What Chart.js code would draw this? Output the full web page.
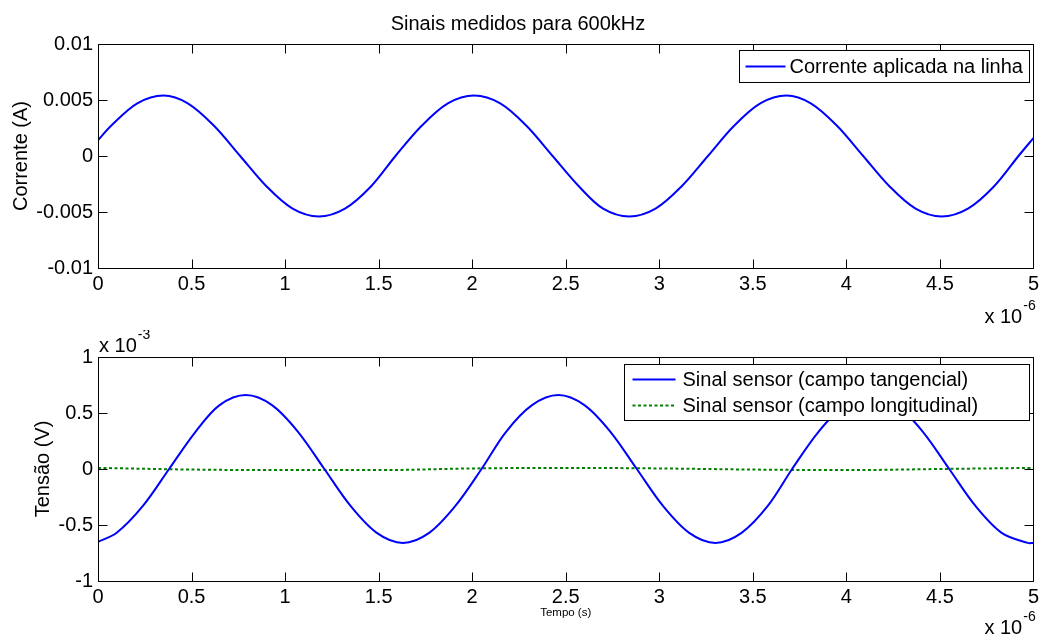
<!DOCTYPE html>
<html>
<head>
<meta charset="utf-8">
<title>Sinais medidos para 600kHz</title>
<script src="https://cdn.jsdelivr.net/npm/chart.js@4.4.0/dist/chart.umd.min.js"></script>
<style>
  html, body { margin: 0; padding: 0; background: #fff; }
  #wrap { position: relative; width: 1043px; height: 636px; }
  .painel { position: absolute; left: 0; width: 1043px; }
  #painelCorrente { top: 0; height: 330px; }
  #painelTensao { top: 330px; height: 306px; }
</style>
</head>
<body>
<div id="wrap">
  <div class="painel" id="painelCorrente"><canvas id="chartCorrente" width="1043" height="330"></canvas></div>
  <div class="painel" id="painelTensao"><canvas id="chartTensao" width="1043" height="306"></canvas></div>
</div>
<script>
// Tempo em unidades de 1e-6 s (eixo "x 10^-6")
const xTickValues = [0, 0.5, 1, 1.5, 2, 2.5, 3, 3.5, 4, 4.5, 5];
const xTickLabels = ['0', '0.5', '1', '1.5', '2', '2.5', '3', '3.5', '4', '4.5', '5'];

// Subplot 1 - corrente (A)
const yCorrenteTicks = [-0.01, -0.005, 0, 0.005, 0.01];
const yCorrenteLabels = ['-0.01', '-0.005', '0', '0.005', '0.01'];
const tempoCorrente = [0, 0.07, 0.21, 0.35, 0.48, 0.62, 0.76, 0.90, 1.04, 1.18, 1.32, 1.46, 1.59,
  1.73, 1.87, 2.01, 2.15, 2.29, 2.43, 2.57, 2.70, 2.84, 2.98, 3.12, 3.26, 3.40, 3.54, 3.68,
  3.81, 3.95, 4.09, 4.23, 4.37, 4.51, 4.65, 4.79, 4.92, 5.00];
const corrente = [0.0014, 0.0027, 0.0047,
  0.0054, 0.0047, 0.0027, 0, -0.0027, -0.0047, -0.0054, -0.0047, -0.0027, 0, 0.0027, 0.0047,
  0.0054, 0.0047, 0.0027, 0, -0.0027, -0.0047, -0.0054, -0.0047, -0.0027, 0, 0.0027, 0.0047,
  0.0054, 0.0047, 0.0027, 0, -0.0027, -0.0047, -0.0054, -0.0047, -0.0027, 0,
  0.0016];

// Subplot 2 - tensao em unidades de 1e-3 V (eixo "x 10^-3")
const yTensaoTicks = [-1, -0.5, 0, 0.5, 1];
const yTensaoLabels = ['-1', '-0.5', '0', '0.5', '1'];
const tempoSensor = [0, 0.10, 0.24, 0.38, 0.52, 0.65, 0.79, 0.93, 1.07, 1.21, 1.35, 1.49, 1.63,
  1.77, 1.91, 2.05, 2.18, 2.32, 2.46, 2.60, 2.74, 2.88, 3.02, 3.16, 3.30,
  3.44, 3.58, 3.71, 3.85, 3.99, 4.13, 4.27, 4.41, 4.55, 4.69, 4.83, 4.97, 5.00];
const sinalTangencial = [-0.65,
  -0.57, -0.33, 0, 0.33, 0.57, 0.66, 0.57, 0.33, 0, -0.33, -0.57, -0.66,
  -0.57, -0.33, 0, 0.33, 0.57, 0.66, 0.57, 0.33, 0, -0.33, -0.57, -0.66,
  -0.57, -0.33, 0, 0.33, 0.57, 0.66, 0.57, 0.33, 0, -0.33, -0.57, -0.66,
  -0.66];
const tempoLongitudinal = [0, 0.5, 1.0, 1.5, 2.0, 2.5, 3.0, 3.5, 4.0, 4.5, 5.0];
const sinalLongitudinal = [0.01, -0.005, -0.01, -0.01, 0.005, 0.01, 0.005, -0.005, -0.01, 0, 0.01];

const FONTE = '"Liberation Sans", Arial, Helvetica, sans-serif';
Chart.defaults.font.family = FONTE;
Chart.defaults.color = '#000';

function toPoints(xs, ys) {
  return xs.map((x, i) => ({ x: x, y: ys[i] }));
}

function labelFor(values, labels) {
  return function(v) {
    const i = values.findIndex(t => Math.abs(t - v) < 1e-9);
    return i >= 0 ? labels[i] : '';
  };
}

// Caixa estilo MATLAB: moldura, marcas para dentro, expoentes e legenda
const matlabFrame = {
  id: 'matlabFrame',
  afterDraw(chart, args, opts) {
    const ctx = chart.ctx;
    const a = chart.chartArea;
    const xs = chart.scales.x, ys = chart.scales.y;
    const L = Math.round(a.left) + 0.5, R = Math.round(a.right) + 0.5;
    const T = Math.round(a.top) + 0.5, B = Math.round(a.bottom) + 0.5;
    const tl = opts.tickLen || 9;
    ctx.save();
    ctx.strokeStyle = '#000';
    ctx.lineWidth = 1;
    ctx.setLineDash([]);
    ctx.beginPath();
    ctx.rect(L, T, R - L, B - T);
    xs.ticks.forEach(t => {
      const px = Math.round(xs.getPixelForValue(t.value)) + 0.5;
      ctx.moveTo(px, B); ctx.lineTo(px, B - tl);
      ctx.moveTo(px, T); ctx.lineTo(px, T + tl);
    });
    ys.ticks.forEach(t => {
      const py = Math.round(ys.getPixelForValue(t.value)) + 0.5;
      ctx.moveTo(L, py); ctx.lineTo(L + tl, py);
      ctx.moveTo(R, py); ctx.lineTo(R - tl, py);
    });
    ctx.stroke();

    // expoentes "x 10^n"
    ctx.fillStyle = '#000';
    ctx.textBaseline = 'middle';
    ctx.textAlign = 'left';
    (opts.exponents || []).forEach(e => {
      const bx = e.corner === 'tl' ? a.left + e.dx : a.right + e.dx;
      const by = e.corner === 'tl' ? a.top + e.dy : a.bottom + e.dy;
      ctx.font = '20px ' + FONTE;
      ctx.fillText('x 10', bx, by);
      const w = ctx.measureText('x 10').width;
      ctx.font = '14px ' + FONTE;
      ctx.fillText(e.sup, bx + w + 1, by - 11);
    });

    // legenda
    const lg = opts.legend;
    if (lg) {
      const bx = Math.round(a.right - lg.right - lg.width) + 0.5;
      const by = Math.round(a.top + lg.top) + 0.5;
      ctx.fillStyle = '#fff';
      ctx.fillRect(bx, by, lg.width, lg.height);
      ctx.strokeStyle = '#000';
      ctx.lineWidth = 1;
      ctx.strokeRect(bx, by, lg.width, lg.height);
      ctx.font = '20px ' + FONTE;
      chart.data.datasets.forEach((ds, i) => {
        const ry = by + lg.rows[i];
        ctx.save();
        ctx.strokeStyle = ds.borderColor;
        ctx.lineWidth = ds.borderWidth;
        ctx.setLineDash(ds.borderDash || []);
        ctx.beginPath();
        ctx.moveTo(bx + lg.linePad, ry);
        ctx.lineTo(bx + lg.linePad + lg.lineLen, ry);
        ctx.stroke();
        ctx.restore();
        ctx.fillStyle = '#000';
        ctx.fillText(ds.label, bx + lg.linePad + lg.lineLen + lg.textGap, ry + 1);
      });
    }
    ctx.restore();
  }
};

function xScale(height, title) {
  return {
    type: 'linear',
    min: 0,
    max: 5,
    ticks: {
      stepSize: 0.5,
      padding: 4,
      autoSkip: false,
      maxRotation: 0,
      font: { size: 20 },
      callback: labelFor(xTickValues, xTickLabels)
    },
    grid: { display: false, drawTicks: false },
    border: { display: false },
    title: title,
    afterFit: function(s) { s.height = height; }
  };
}

function yScale(min, max, step, values, labels, titleText, titlePad) {
  return {
    type: 'linear',
    min: min,
    max: max,
    ticks: {
      stepSize: step,
      padding: 5,
      autoSkip: false,
      font: { size: 20 },
      callback: labelFor(values, labels)
    },
    grid: { display: false, drawTicks: false },
    border: { display: false },
    title: {
      display: true,
      text: titleText,
      font: { size: 20 },
      padding: { top: titlePad, bottom: 0 }
    },
    afterFit: function(s) { s.width = 98; }
  };
}

// Corrente aplicada
new Chart(document.getElementById('chartCorrente').getContext('2d'), {
  type: 'line',
  data: {
    datasets: [{
      label: 'Corrente aplicada na linha',
      data: toPoints(tempoCorrente, corrente),
      borderColor: '#0000ff',
      borderWidth: 2,
      pointRadius: 0,
      tension: 0.33,
      fill: false
    }]
  },
  options: {
    responsive: false,
    animation: false,
    layout: { padding: { left: 0, right: 7, top: 0, bottom: 0 } },
    plugins: {
      legend: { display: false },
      tooltip: { enabled: false },
      title: {
        display: true,
        text: 'Sinais medidos para 600kHz',
        color: '#000',
        font: { size: 20, weight: 'normal' },
        padding: { top: 12, bottom: 8 }
      },
      matlabFrame: {
        tickLen: 9,
        exponents: [{ corner: 'br', dx: -49, dy: 49, sup: '-6' }],
        legend: { right: 4, top: 6, width: 290, height: 32, rows: [16], linePad: 6, lineLen: 40, textGap: 4 }
      }
    },
    scales: {
      x: xScale(62, { display: false }),
      y: yScale(-0.01, 0.01, 0.005, yCorrenteTicks, yCorrenteLabels, 'Corrente (A)', 9)
    }
  },
  plugins: [matlabFrame]
});

// Sinais dos sensores
new Chart(document.getElementById('chartTensao').getContext('2d'), {
  type: 'line',
  data: {
    datasets: [{
      label: 'Sinal sensor (campo tangencial)',
      data: toPoints(tempoSensor, sinalTangencial),
      borderColor: '#0000ff',
      borderWidth: 2,
      pointRadius: 0,
      tension: 0.33,
      fill: false
    }, {
      label: 'Sinal sensor (campo longitudinal)',
      data: toPoints(tempoLongitudinal, sinalLongitudinal),
      borderColor: '#008000',
      borderWidth: 2,
      borderDash: [3, 2.5],
      pointRadius: 0,
      cubicInterpolationMode: 'monotone',
      fill: false
    }]
  },
  options: {
    responsive: false,
    animation: false,
    layout: { padding: { left: 0, right: 7, top: 27, bottom: 0 } },
    plugins: {
      legend: { display: false },
      tooltip: { enabled: false },
      matlabFrame: {
        tickLen: 9,
        exponents: [
          { corner: 'tl', dx: 1, dy: -11, sup: '-3' },
          { corner: 'br', dx: -49, dy: 47, sup: '-6' }
        ],
        legend: { right: 4, top: 7, width: 405, height: 56, rows: [15, 41], linePad: 8, lineLen: 43, textGap: 7 }
      }
    },
    scales: {
      x: xScale(55, {
        display: true,
        text: 'Tempo (s)',
        font: { size: 11.5 },
        padding: { top: 0, bottom: 16 }
      }),
      y: yScale(-1, 1, 0.5, yTensaoTicks, yTensaoLabels, 'Tensão (V)', 31)
    }
  },
  plugins: [matlabFrame]
});
</script>
</body>
</html>
